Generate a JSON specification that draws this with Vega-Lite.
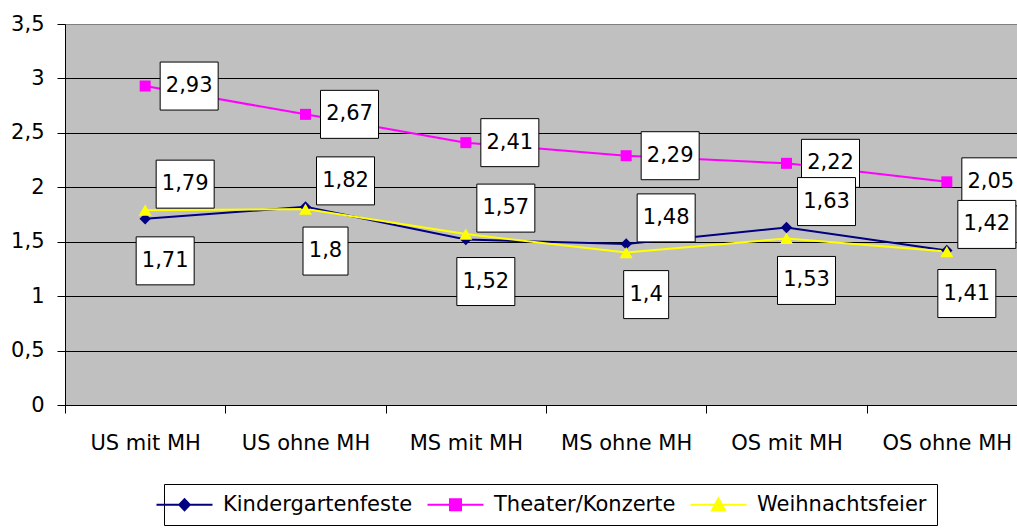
{
  "$schema": "https://vega.github.io/schema/vega-lite/v6.json",
  "width": 962,
  "height": 381,
  "autosize": {"type": "none"},
  "padding": {"left": 65, "top": 24, "right": 0, "bottom": 124},
  "background": "white",
  "config": {
    "font": "DejaVu Sans",
    "view": {"fill": "#C0C0C0", "stroke": "#808080", "strokeWidth": 1},
    "axis": {"labelFont": "DejaVu Sans", "labelFontSize": 21, "labelColor": "black", "tickColor": "black", "tickSize": 8, "domainColor": "black", "title": null}
  },
  "data": {
    "values": [
      {"cat": "US mit MH", "series": "Kindergartenfeste", "value": 1.71},
      {"cat": "US ohne MH", "series": "Kindergartenfeste", "value": 1.82},
      {"cat": "MS mit MH", "series": "Kindergartenfeste", "value": 1.52},
      {"cat": "MS ohne MH", "series": "Kindergartenfeste", "value": 1.48},
      {"cat": "OS mit MH", "series": "Kindergartenfeste", "value": 1.63},
      {"cat": "OS ohne MH", "series": "Kindergartenfeste", "value": 1.42},
      {"cat": "US mit MH", "series": "Theater/Konzerte", "value": 2.93},
      {"cat": "US ohne MH", "series": "Theater/Konzerte", "value": 2.67},
      {"cat": "MS mit MH", "series": "Theater/Konzerte", "value": 2.41},
      {"cat": "MS ohne MH", "series": "Theater/Konzerte", "value": 2.29},
      {"cat": "OS mit MH", "series": "Theater/Konzerte", "value": 2.22},
      {"cat": "OS ohne MH", "series": "Theater/Konzerte", "value": 2.05},
      {"cat": "US mit MH", "series": "Weihnachtsfeier", "value": 1.79},
      {"cat": "US ohne MH", "series": "Weihnachtsfeier", "value": 1.8},
      {"cat": "MS mit MH", "series": "Weihnachtsfeier", "value": 1.57},
      {"cat": "MS ohne MH", "series": "Weihnachtsfeier", "value": 1.4},
      {"cat": "OS mit MH", "series": "Weihnachtsfeier", "value": 1.53},
      {"cat": "OS ohne MH", "series": "Weihnachtsfeier", "value": 1.41}
    ]
  },
  "transform": [
    {"calculate": "replace(toString(datum.value), '.', ',')", "as": "label"}
  ],
  "encoding": {
    "x": {
      "field": "cat", "type": "nominal",
      "sort": ["US mit MH", "US ohne MH", "MS mit MH", "MS ohne MH", "OS mit MH", "OS ohne MH"],
      "scale": {"type": "band", "paddingInner": 0, "paddingOuter": 0},
      "axis": {"labelAngle": 0, "tickBand": "extent", "grid": false, "labelPadding": 19}
    },
    "y": {
      "field": "value", "type": "quantitative",
      "scale": {"domain": [0, 3.5], "nice": false, "zero": true},
      "axis": {
        "values": [0, 0.5, 1, 1.5, 2, 2.5, 3, 3.5],
        "labelExpr": "replace(toString(datum.value), '.', ',')",
        "grid": true,
        "gridColor": {"condition": {"test": "datum.value === 3.5", "value": "#808080"}, "value": "black"},
        "gridWidth": 1,
        "labelPadding": 13
      }
    }
  },
  "layer": [
    {
      "mark": {"type": "line", "strokeWidth": 2},
      "encoding": {
        "color": {
          "field": "series", "type": "nominal",
          "scale": {"domain": ["Kindergartenfeste", "Theater/Konzerte", "Weihnachtsfeier"], "range": ["#000080", "#FF00FF", "#FFFF00"]},
          "legend": {
            "orient": "none", "legendX": 99, "legendY": 460, "direction": "horizontal",
            "title": null, "symbolSize": 144, "symbolStrokeWidth": 2, "symbolType": "M-1,0H1",
            "labelFont": "DejaVu Sans", "labelFontSize": 21, "labelColor": "black", "labelLimit": 400,
            "labelOffset": 28, "columnPadding": 10, "padding": 10,
            "strokeColor": "black", "fillColor": "white", "cornerRadius": 0,
            "encode": {
              "symbols": {
                "update": {
                  "shape": {"signal": "datum.value === 'Kindergartenfeste' ? 'M-4.667,0H4.667M0,-0.92L0.88,0L0,0.92L-0.88,0Z' : datum.value === 'Theater/Konzerte' ? 'M-4.667,0H4.667M-0.92,-0.92H0.92V0.92H-0.92Z' : 'M-4.667,0H4.667M0,-1.05L1.1,0.95H-1.1Z'"},
                  "fill": {"scale": "color", "field": "value"},
                  "stroke": {"scale": "color", "field": "value"},
                  "strokeWidth": {"value": 2},
                  "opacity": {"value": 1}
                }
              }
            }
          }
        }
      }
    },
    {
      "transform": [{"filter": {"field": "series", "equal": "Kindergartenfeste"}}],
      "mark": {"type": "point", "shape": "diamond", "filled": true, "opacity": 1, "size": 130, "color": "#000080"},
      "encoding": {}
    },
    {
      "transform": [{"filter": {"field": "series", "equal": "Theater/Konzerte"}}],
      "mark": {"type": "point", "shape": "square", "filled": true, "opacity": 1, "size": 121, "color": "#FF00FF"},
      "encoding": {}
    },
    {
      "transform": [{"filter": {"field": "series", "equal": "Weihnachtsfeier"}}],
      "mark": {"type": "point", "shape": "triangle-up", "filled": true, "opacity": 1, "size": 169, "color": "#FFFF00"},
      "encoding": {}
    },
    {
      "transform": [{"filter": {"field": "series", "equal": "Theater/Konzerte"}}],
      "mark": {"type": "point", "shape": "M15,-24H73V24H15Z", "size": 4, "filled": true, "fill": "white", "stroke": "black", "strokeWidth": 1, "opacity": 1},
      "encoding": {}
    },
    {
      "transform": [
        {"filter": {"field": "series", "oneOf": ["Kindergartenfeste", "Weihnachtsfeier"]}},
        {"joinaggregate": [{"op": "max", "field": "value", "as": "mx"}], "groupby": ["cat"]},
        {"filter": "datum.value === datum.mx"}
      ],
      "mark": {"type": "point", "shape": "M11,-50H69V-2H11Z", "size": 4, "filled": true, "fill": "white", "stroke": "black", "strokeWidth": 1, "opacity": 1},
      "encoding": {}
    },
    {
      "transform": [
        {"filter": {"field": "series", "oneOf": ["Kindergartenfeste", "Weihnachtsfeier"]}},
        {"joinaggregate": [{"op": "max", "field": "value", "as": "mx"}], "groupby": ["cat"]},
        {"filter": "datum.value < datum.mx && length(datum.label) >= 4"}
      ],
      "mark": {"type": "point", "shape": "M-9,18H49V66H-9Z", "size": 4, "filled": true, "fill": "white", "stroke": "black", "strokeWidth": 1, "opacity": 1},
      "encoding": {}
    },
    {
      "transform": [
        {"filter": {"field": "series", "oneOf": ["Kindergartenfeste", "Weihnachtsfeier"]}},
        {"joinaggregate": [{"op": "max", "field": "value", "as": "mx"}], "groupby": ["cat"]},
        {"filter": "datum.value < datum.mx && length(datum.label) < 4"}
      ],
      "mark": {"type": "point", "shape": "M-2.5,18H42.5V66H-2.5Z", "size": 4, "filled": true, "fill": "white", "stroke": "black", "strokeWidth": 1, "opacity": 1},
      "encoding": {}
    },
    {
      "transform": [{"filter": {"field": "series", "equal": "Theater/Konzerte"}}],
      "mark": {"type": "text", "dx": 44, "dy": 0, "align": "center", "baseline": "middle", "font": "DejaVu Sans", "fontSize": 21, "color": "black"},
      "encoding": {"text": {"field": "label"}}
    },
    {
      "transform": [
        {"filter": {"field": "series", "oneOf": ["Kindergartenfeste", "Weihnachtsfeier"]}},
        {"joinaggregate": [{"op": "max", "field": "value", "as": "mx"}], "groupby": ["cat"]},
        {"filter": "datum.value === datum.mx"}
      ],
      "mark": {"type": "text", "dx": 40, "dy": -26, "align": "center", "baseline": "middle", "font": "DejaVu Sans", "fontSize": 21, "color": "black"},
      "encoding": {"text": {"field": "label"}}
    },
    {
      "transform": [
        {"filter": {"field": "series", "oneOf": ["Kindergartenfeste", "Weihnachtsfeier"]}},
        {"joinaggregate": [{"op": "max", "field": "value", "as": "mx"}], "groupby": ["cat"]},
        {"filter": "datum.value < datum.mx"}
      ],
      "mark": {"type": "text", "dx": 20, "dy": 42, "align": "center", "baseline": "middle", "font": "DejaVu Sans", "fontSize": 21, "color": "black"},
      "encoding": {"text": {"field": "label"}}
    }
  ]
}
